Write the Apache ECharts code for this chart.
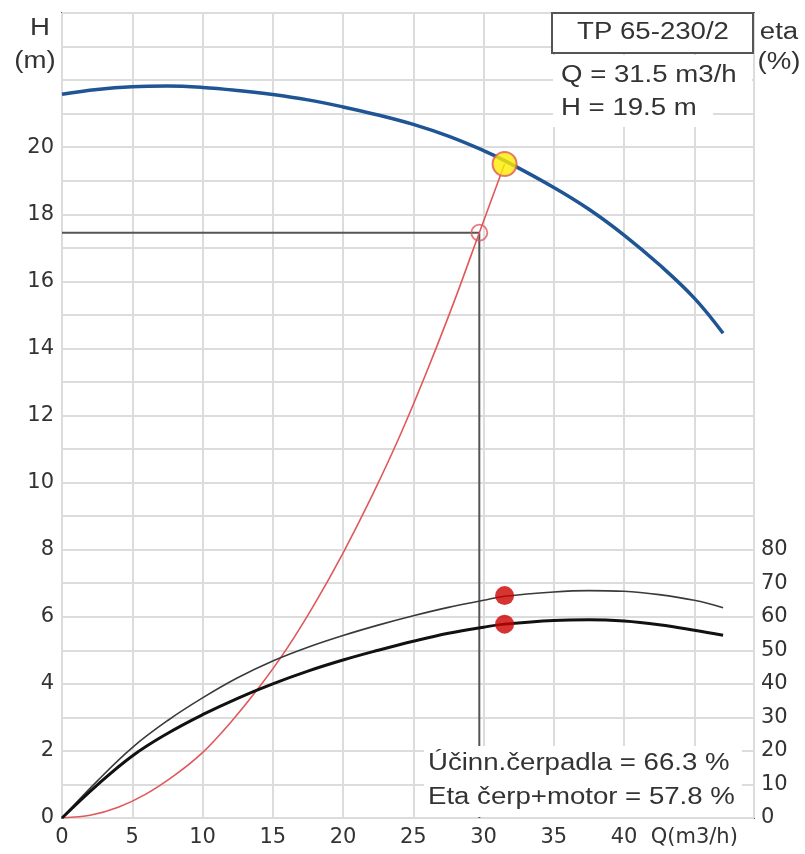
<!DOCTYPE html>
<html>
<head>
<meta charset="utf-8">
<script src="https://cdn.jsdelivr.net/npm/echarts@6/dist/echarts.min.js"></script>
<style>
html, body { margin: 0; background: #fff; }
#main { width: 805px; height: 854px; }
</style>
</head>
<body>
<div id="main"></div>
<script>
// pump curve H(Q)
const qHead = [0, 2.5, 5, 7.5, 10, 12.5, 15, 17.5, 20, 22.5, 25, 27.5, 30, 31.5, 35, 37.5, 40, 42.5, 45, 47.05];
const head = [21.58, 21.72, 21.8, 21.82, 21.78, 21.69, 21.57, 21.41, 21.2, 20.96, 20.68, 20.33, 19.9, 19.6, 18.8, 18.15, 17.38, 16.5, 15.5, 14.45];

// system curve
const qSys = [0, 2, 4, 6, 8, 10, 12, 14, 16, 18, 20, 22, 24, 26, 28, 29.7, 31.5];
const headSys = [0, 0.08, 0.32, 0.72, 1.27, 1.95, 2.85, 3.88, 5.05, 6.4, 7.9, 9.55, 11.35, 13.35, 15.5, 17.45, 19.5];

// efficiencies (%)
const qEta = [0, 2.5, 5, 7.5, 10, 12.5, 15, 17.5, 20, 22.5, 25, 27.5, 30, 31.5, 35, 37.5, 40, 42.5, 45, 47.05];
const etaPump = [0, 11, 21, 29, 35.8, 41.8, 46.8, 50.9, 54.4, 57.5, 60.3, 62.8, 64.9, 66.1, 67.4, 67.8, 67.6, 66.6, 64.9, 62.7];
const etaTotal = [0, 9.8, 18.5, 25.2, 30.8, 35.7, 40, 43.8, 47.1, 50, 52.7, 55.1, 56.9, 57.8, 58.9, 59.1, 58.7, 57.6, 56, 54.5];

// duty point and read-off lines
const duty = [31.5, 19.5];
const readOff = [[0, 17.45], [29.7, 17.45], [29.7, 0]];
const readPoint = [29.7, 17.45];
const etaDuty = [[31.5, 66.3], [31.5, 57.8]];

const font = 'Liberation Sans';
const axisFont = 'DejaVu Sans';
const txt = '#333';

const chart = echarts.init(document.getElementById('main'));

const pairs = (xs, ys) => xs.map((x, i) => [x, ys[i]]);

// graphic text helper, stretched a bit wider like the original
const label = (text, x, y, align) => ({
    type: 'text', x: x, y: y, z: 101, scaleX: 1.2,
    style: { text: text, font: '23px ' + font, fill: txt, align: align || 'left', verticalAlign: 'middle' }
});

chart.setOption({
    backgroundColor: '#fff',
    animation: false,
    grid: {
        left: 62, top: 13, right: 51, bottom: 36,
        show: true, borderColor: '#6a6a6a', borderWidth: 2
    },
    xAxis: {
        type: 'value', min: 0, max: 49.25, interval: 5,
        axisLine: { show: false },
        axisTick: { show: false },
        splitLine: { lineStyle: { color: '#dcdcdc', width: 2 } },
        axisLabel: {
            color: txt, fontFamily: axisFont, fontSize: 21, margin: 9,
            showMaxLabel: false,
            formatter: v => (v === 45 ? 'Q(m3/h)' : v)
        }
    },
    yAxis: [
        {
            type: 'value', min: 0, max: 24, interval: 1,
            axisLine: { show: false },
            axisTick: { show: false },
            splitLine: { lineStyle: { color: '#dcdcdc', width: 2 } },
            axisLabel: {
                color: txt, fontFamily: axisFont, fontSize: 21, margin: 8,
                formatter: v => (v % 2 === 0 && v <= 20 ? v : '')
            }
        },
        {
            type: 'value', min: 0, max: 240, interval: 10, position: 'right',
            axisLine: { show: false },
            axisTick: { show: false },
            splitLine: { show: false },
            axisLabel: {
                color: txt, fontFamily: axisFont, fontSize: 21, margin: 7,
                formatter: v => (v <= 80 ? v : '')
            }
        }
    ],
    series: [
        {
            type: 'line', data: readOff, symbol: 'none', z: 3,
            lineStyle: { color: '#555', width: 2 }
        },
        {
            type: 'line', data: pairs(qSys, headSys), symbol: 'none', smooth: 0.3, z: 4,
            lineStyle: { color: '#e0585a', width: 1.6 }
        },
        {
            type: 'line', data: pairs(qHead, head), symbol: 'none', smooth: 0.4, z: 5,
            lineStyle: { color: '#1f5595', width: 3.5 }
        },
        {
            type: 'line', yAxisIndex: 1, data: pairs(qEta, etaPump), symbol: 'none', smooth: 0.4, z: 5,
            lineStyle: { color: '#3a3a3a', width: 1.6 }
        },
        {
            type: 'line', yAxisIndex: 1, data: pairs(qEta, etaTotal), symbol: 'none', smooth: 0.4, z: 5,
            lineStyle: { color: '#111', width: 3 }
        },
        {
            type: 'scatter', data: [readPoint], symbol: 'circle', symbolSize: 16, z: 6,
            itemStyle: { color: 'rgba(255,255,255,0)', borderColor: '#e0585a', borderWidth: 1.8 }
        },
        {
            type: 'scatter', data: [duty], symbol: 'circle', symbolSize: 24, z: 6,
            itemStyle: { color: '#ffec00', borderColor: '#e0585a', borderWidth: 2 }
        },
        {
            type: 'scatter', yAxisIndex: 1, data: etaDuty, symbol: 'circle', symbolSize: 19, z: 6,
            itemStyle: { color: '#cc0000' }
        }
    ],
    graphic: [
        label('H', 40, 29, 'center'),
        label('(m)', 35, 62, 'center'),
        label('eta', 779, 33, 'center'),
        label('(%)', 779, 63, 'center'),
        {
            type: 'rect', z: 100, shape: { x: 552, y: 13, width: 201, height: 40 },
            style: { fill: '#fff', stroke: '#555', lineWidth: 2 }
        },
        label('TP 65-230/2', 653, 33, 'center'),
        { type: 'rect', z: 100, shape: { x: 553, y: 55, width: 199, height: 38 }, style: { fill: '#fff' } },
        { type: 'rect', z: 100, shape: { x: 553, y: 93, width: 160, height: 34 }, style: { fill: '#fff' } },
        label('Q = 31.5 m3/h', 561, 76),
        label('H = 19.5 m', 561, 109),
        { type: 'rect', z: 100, shape: { x: 424, y: 746, width: 318, height: 71 }, style: { fill: '#fff' } },
        label('Účinn.čerpadla = 66.3 %', 428, 764),
        label('Eta čerp+motor = 57.8 %', 428, 798)
    ]
});
</script>
</body>
</html>
